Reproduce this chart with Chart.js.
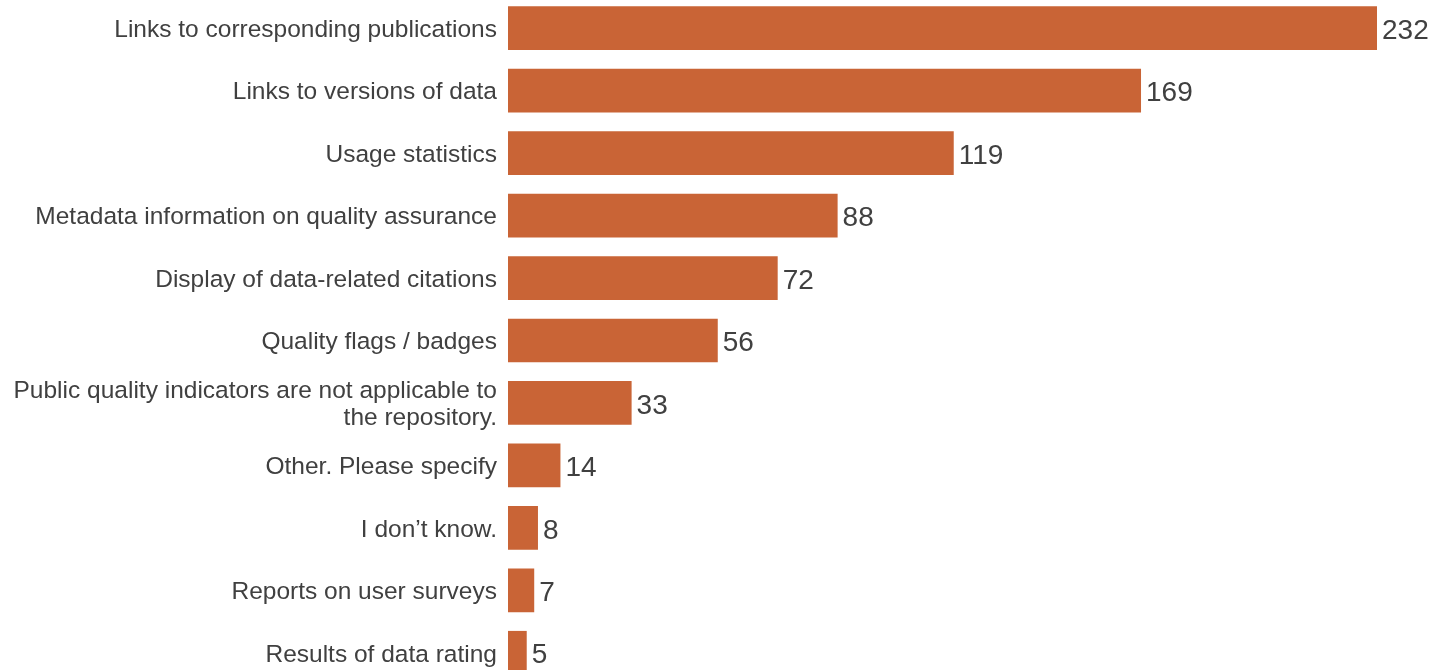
<!DOCTYPE html>
<html>
<head>
<meta charset="utf-8">
<script src="https://cdn.jsdelivr.net/npm/chart.js@4/dist/chart.umd.min.js"></script>
<style>
  html, body { margin: 0; padding: 0; background: #ffffff; overflow: hidden; width: 1432px; height: 670px; }
  #wrap { position: absolute; left: 0; top: -3px; width: 1432px; height: 687px; }
</style>
</head>
<body>
<div id="wrap"><canvas id="c"></canvas></div>
<script>
const categories = [
  "Links to corresponding publications",
  "Links to versions of data",
  "Usage statistics",
  "Metadata information on quality assurance",
  "Display of data-related citations",
  "Quality flags / badges",
  ["Public quality indicators are not applicable to", "the repository."],
  "Other. Please specify",
  "I don\u2019t know.",
  "Reports on user surveys",
  "Results of data rating"
];
const counts = [232, 169, 119, 88, 72, 56, 33, 14, 8, 7, 5];

const BAR_COLOR = "#C96436";
const TEXT_COLOR = "#404040";

const valueLabels = {
  id: "valueLabels",
  afterDatasetsDraw(chart) {
    const ctx = chart.ctx;
    const meta = chart.getDatasetMeta(0);
    ctx.save();
    ctx.font = "28px 'Liberation Sans', Arial, sans-serif";
    ctx.fillStyle = TEXT_COLOR;
    ctx.textAlign = "left";
    ctx.textBaseline = "middle";
    meta.data.forEach((bar, i) => {
      ctx.fillText(String(counts[i]), bar.x + 5, bar.y + 3);
    });
    ctx.restore();
  }
};

new Chart(document.getElementById("c"), {
  type: "bar",
  data: {
    labels: categories,
    datasets: [{
      data: counts,
      backgroundColor: BAR_COLOR,
      borderWidth: 0,
      barPercentage: 0.7,
      categoryPercentage: 1.0
    }]
  },
  options: {
    indexAxis: "y",
    responsive: true,
    maintainAspectRatio: false,
    animation: false,
    layout: { padding: { left: 0, right: 55, top: 0, bottom: 0 } },
    plugins: { legend: { display: false }, tooltip: { enabled: false } },
    scales: {
      x: {
        display: false,
        min: 0,
        max: 232
      },
      y: {
        grid: { display: false, drawTicks: false },
        border: { display: false },
        ticks: {
          color: TEXT_COLOR,
          padding: 11,
          labelOffset: 2,
          font: { family: "'Liberation Sans', Arial, sans-serif", size: 24.5, lineHeight: 1.08 }
        },
        afterFit(scale) {
          scale.width = 508;
          scale.paddingTop = 0;
          scale.paddingBottom = 0;
        }
      }
    }
  },
  plugins: [valueLabels]
});
</script>
</body>
</html>
